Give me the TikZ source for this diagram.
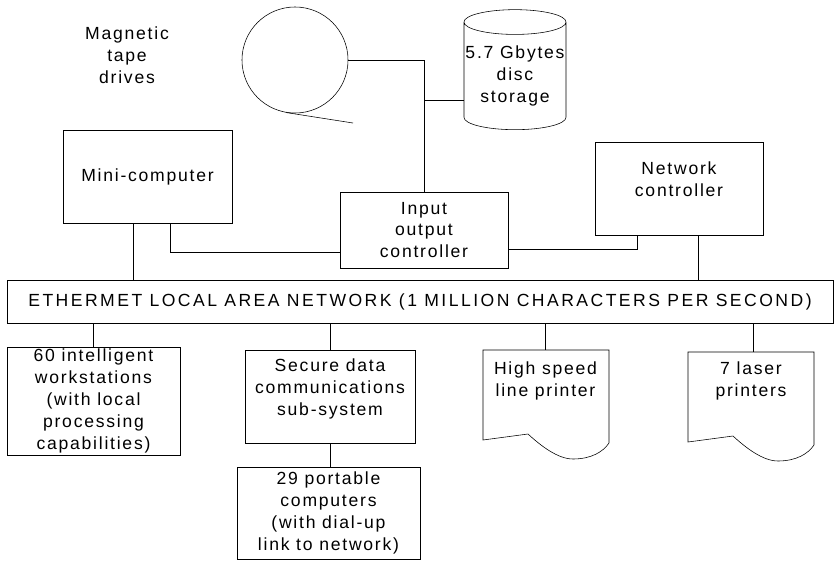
\documentclass[tikz,border=0pt]{standalone}
\usepackage{fontspec}
\setmainfont[LetterSpace=10]{Liberation Sans}
\usetikzlibrary{positioning,calc,shapes.geometric}
\tikzset{
  box/.style={draw, rectangle, align=center, inner sep=0pt},
  txt/.style={align=center, inner sep=0pt}
}
\newcommand \mydrawpaper[1]
{
\begin{scope}[shift={#1}]
\draw (0,0) -- (126,0) -- (126,93) .. controls (120,102) and (108,109) .. (90,109)
  .. controls (75,109) and (58,96) .. (45,84) -- (0,90) -- cycle;
\end{scope}
}

\begin{document}
\begin{tikzpicture}[x=0.025cm, y=-0.025cm, font=\fontsize{12.5}{15.5}\selectfont]
\useasboundingbox (0,0) rectangle (837,561);
% upper part
\node[txt] (tapelbl) at (127,55) {Magnetic\\tape\\drives};
\node[draw, circle, minimum size=2.65cm, inner sep=0pt] (tape) at (295,60) {};
\coordinate (tapeend) at (353,123);
\draw (tape.-100) -- (tapeend);
\node[draw, cylinder, shape border rotate=90, aspect=0.25, minimum height=3.0cm,
      minimum width=2.55cm, align=center, inner sep=0pt] (disc) at (515,76)
      {5.7 Gbytes\\disc\\storage};
\node[box, minimum width=4.225cm, minimum height=2.325cm] (mini) at (147.5,176.5) {Mini-computer};
\node[box, minimum width=4.2cm, minimum height=1.9cm] (io) at (424,230) {Input\\output\\controller};
\node[box, minimum width=4.2cm, minimum height=2.325cm] (netc) at (679,188.5) {};
\node[txt] (netclbl) at (679,179) {Network\\controller};
\node[box, minimum width=20.65cm, minimum height=1.075cm] (lan) at (420,301.5)
  {\addfontfeatures{LetterSpace=14}ETHERMET LOCAL AREA NETWORK (1 MILLION CHARACTERS PER SECOND)};
\coordinate (junc) at (424,100);
\draw (tape.east) -| (io.north);
\draw (junc) -- (junc -| disc.west);
\draw ([xshift=-0.35cm]mini.south) -- ([xshift=-0.35cm]mini.south |- lan.north);
\draw ([xshift=0.575cm]mini.south) |- ([yshift=-0.55cm]io.west);
\draw ([yshift=-0.475cm]io.east) -| ([xshift=-1.05cm]netc.south);
\draw ([xshift=0.475cm]netc.south) -- ([xshift=0.475cm]netc.south |- lan.north);
% lower part
\node[box, minimum width=4.325cm, minimum height=2.7cm] (ws) at (93.5,401)
  {60 intelligent\\workstations\\(with local\\processing\\capabilities)};
\node[box, minimum width=4.25cm, minimum height=2.325cm] (sec) at (330,396.5) {};
\node[txt] (seclbl) at (330,389) {Secure data\\communications\\sub-system};
\node[box, minimum width=4.575cm, minimum height=2.3cm] (port) at (328.5,513)
  {29 portable\\computers\\(with dial-up\\link to network)};
\mydrawpaper{(483,350)}
\mydrawpaper{(688,352)}
\node[txt] (hsp) at (545.5,381) {High speed\\line printer};
\node[txt] (laser) at (751,381) {7 laser\\printers};
\coordinate (hsptop) at (545,350);
\coordinate (lasertop) at (753,352);
\draw (ws.north |- lan.south) -- (ws.north);
\draw (sec.north |- lan.south) -- (sec.north);
\draw (sec.south) -- (sec.south |- port.north);
\draw (hsptop |- lan.south) -- (hsptop);
\draw (lasertop |- lan.south) -- (lasertop);
\end{tikzpicture}
\end{document}
